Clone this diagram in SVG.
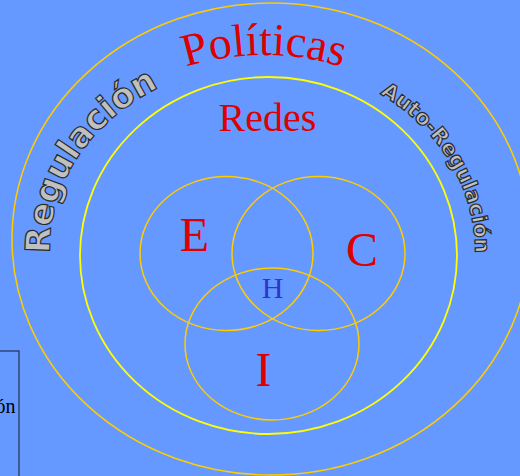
<svg xmlns="http://www.w3.org/2000/svg" width="520" height="476" viewBox="0 0 520 476">
<defs>
<style>
.ring{fill:none;stroke:#FFCC00;stroke-width:1.5}
.inner{fill:none;stroke:#FFFF00;stroke-width:1.8}
.red{fill:#DD0000;font-family:"Liberation Serif","Times New Roman",serif}
.word{fill:#C0C0C0;stroke:#2a2a2a;stroke-width:1.2;font-family:"DejaVu Sans",Verdana,sans-serif;font-weight:bold}
</style>
<path id="arcPol" d="M 174,71 A 260 260 0 0 1 354,71"/>
<path id="arcReg" d="M 50.1,253.5 A 220 185 0 0 1 162,86"/>
<path id="arcAuto" d="M 380,94 A 205 188 0 0 1 475,262"/>
</defs>
<rect x="0" y="0" width="520" height="476" fill="#6699FF"/>
<g id="outer"><ellipse class="ring" cx="271" cy="239" rx="259" ry="236"/></g>
<g id="redes"><ellipse class="inner" cx="268.5" cy="255.5" rx="188.5" ry="178.5"/></g>
<g id="E"><ellipse class="ring" cx="226.5" cy="253.5" rx="86.5" ry="77"/></g>
<g id="C"><ellipse class="ring" cx="318.5" cy="253.5" rx="86.5" ry="77"/></g>
<g id="I"><ellipse class="ring" cx="272" cy="344" rx="87" ry="76"/></g>
<g id="labels">
<text class="red" font-size="46"><textPath href="#arcPol" startOffset="50%" text-anchor="middle">Políticas</textPath></text>
<text class="red" x="267.5" y="131" font-size="40" text-anchor="middle">Redes</text>
<text class="red" x="194.5" y="251" font-size="48" text-anchor="middle">E</text>
<text class="red" x="362" y="266" font-size="48" text-anchor="middle">C</text>
<text class="red" x="263.5" y="386" font-size="48" text-anchor="middle">I</text>
<text x="272.5" y="298" font-size="30" fill="#3333CC" text-anchor="middle" font-family="Liberation Serif,'Times New Roman',serif">H</text>
<text class="word" font-size="34"><textPath href="#arcReg" textLength="210" lengthAdjust="spacing">Regulación</textPath></text>
<text class="word" font-size="21"><textPath href="#arcAuto" textLength="194" lengthAdjust="spacing">Auto-Regulación</textPath></text>
</g>
<g id="box">
<rect x="-10" y="351" width="29" height="140" fill="none" stroke="#223355" stroke-width="1.2"/>
<text x="15.5" y="413" font-size="20" fill="#000" text-anchor="end" font-family="Liberation Serif,'Times New Roman',serif">ón</text>
</g>
</svg>
